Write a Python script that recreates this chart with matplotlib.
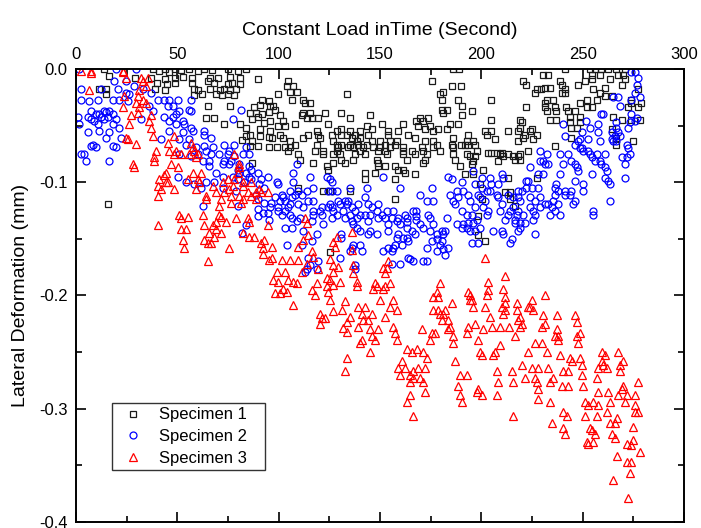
import matplotlib
matplotlib.use("Agg")
import matplotlib.pyplot as plt
import numpy as np

plt.rcParams['font.family'] = ['Liberation Sans', 'DejaVu Sans']
plt.rcParams['axes.unicode_minus'] = False

# (time s, lateral deformation mm)
spec1 = [
    (14, 0.0), (16.5, -0.006), (38, 0.0), (41, -0.002), (44, 0.0), (46, -0.003), (49, 0.0), (52, -0.001),
    (56, 0.0), (60, -0.002), (63, 0.0), (67, -0.001), (75, 0.0), (80, -0.002), (84, 0.0),
    (29, -0.008), (37, -0.008), (44, -0.009), (49, -0.008), (53, -0.007), (57, -0.008), (66, -0.008),
    (70, -0.008), (76, -0.007), (81, -0.008), (90, -0.009),
    (40, -0.012), (45, -0.013), (49, -0.012), (57, -0.012), (65, -0.011), (68, -0.012), (75, -0.013),
    (77, -0.012), (81, -0.013),
    (11.5, -0.018), (15, -0.018), (39, -0.018), (44, -0.019), (58, -0.018), (60, -0.019), (66, -0.018),
    (71, -0.019), (73, -0.018), (76, -0.019), (79, -0.018),
    (15, -0.022), (58, -0.023), (62, -0.022), (69, -0.022), (72, -0.023), (75, -0.022), (78, -0.023),
    (92, -0.027), (95, -0.028), (65, -0.033), (76, -0.033), (88, -0.034), (91, -0.032),
    (86, -0.039), (89, -0.039), (92, -0.040), (95, -0.038), (64, -0.043), (68, -0.043), (87, -0.044),
    (90, -0.042), (73, -0.049), (81, -0.049), (93, -0.048), (84, -0.052), (91, -0.053),
    (84, -0.059), (86, -0.058), (91, -0.059), (95, -0.060), (82, -0.063), (87, -0.064),
    (86, -0.068), (90, -0.068), (95, -0.069), (87, -0.083), (16, -0.119),
    (186, 0.0), (189, 0.0),
    (104.7, -0.011), (175.5, -0.011), (104, -0.015), (107, -0.015), (185.3, -0.015), (190, -0.015),
    (105.6, -0.020), (108.9, -0.020), (181, -0.020), (99.8, -0.022), (133.5, -0.022), (179.6, -0.022),
    (106.4, -0.027), (112.1, -0.027), (180.4, -0.027), (188.6, -0.027), (113, -0.030), (115.4, -0.030),
    (95.7, -0.033), (97.3, -0.033), (190.3, -0.033), (98.2, -0.036), (180.4, -0.036), (182.9, -0.036),
    (112.1, -0.039), (115.4, -0.039), (122.8, -0.039), (131, -0.039), (181.2, -0.039),
    (100.6, -0.041), (111.3, -0.041), (145, -0.041), (190.3, -0.041),
    (113.8, -0.043), (116.3, -0.043), (119.5, -0.043), (135.2, -0.043), (169.7, -0.043), (173.8, -0.043),
    (95.7, -0.046), (102.3, -0.046), (168, -0.046), (171.4, -0.046),
    (108, -0.049), (124.5, -0.049), (150.8, -0.049), (161.5, -0.049), (184.5, -0.049), (188.6, -0.049),
    (99.8, -0.050), (103, -0.050), (143.4, -0.050), (168.9, -0.050), (174.6, -0.050),
    (131, -0.053), (145.9, -0.053), (172.2, -0.053), (178.8, -0.053), (182.9, -0.053),
    (95.7, -0.055), (118.7, -0.055), (128.6, -0.055), (135.2, -0.055), (140.1, -0.055), (154.1, -0.055),
    (159, -0.055), (176.3, -0.055),
    (100.6, -0.058), (114.6, -0.058), (119.5, -0.058), (126.1, -0.058), (131, -0.058), (133.5, -0.058),
    (137.6, -0.058), (144.2, -0.058), (154, -0.058), (164, -0.058),
    (96.5, -0.061), (102.3, -0.061), (112.1, -0.061), (120.4, -0.061), (136, -0.061), (140, -0.061),
    (167.3, -0.061), (186.2, -0.061),
    (105.6, -0.064), (127, -0.064), (138.5, -0.064), (145.9, -0.064), (150, -0.064), (154.9, -0.064),
    (158.2, -0.064), (172.2, -0.064), (176.3, -0.064),
    (108, -0.067), (118.7, -0.067), (128.6, -0.067), (131, -0.067), (135.2, -0.067), (139.3, -0.067),
    (143.4, -0.067), (152.4, -0.067), (157.4, -0.067), (178, -0.067), (185.3, -0.067), (190, -0.067),
    (99, -0.069), (103, -0.069), (105.6, -0.069), (129.4, -0.069), (134.4, -0.069), (136.8, -0.069),
    (141.8, -0.069), (146.7, -0.069), (150, -0.069), (154.9, -0.069), (161.5, -0.069), (170.5, -0.069),
    (176.3, -0.069), (186.2, -0.069),
    (104.7, -0.072), (117.9, -0.072), (122, -0.072), (128.6, -0.072), (140, -0.072), (149.2, -0.072),
    (152.4, -0.072), (161.5, -0.072), (165.6, -0.072), (171.4, -0.072), (179.6, -0.072),
    (109.7, -0.075), (122, -0.075), (127, -0.075), (130.2, -0.075), (137.6, -0.075), (142.5, -0.075),
    (153.3, -0.075), (161.5, -0.075), (167.3, -0.075), (173, -0.075), (186.2, -0.075),
    (110.5, -0.080), (131, -0.080), (136.8, -0.080), (148.3, -0.080), (163.1, -0.080), (172.2, -0.080),
    (187, -0.080), (117.1, -0.083), (127, -0.083), (132.7, -0.083), (149.2, -0.083), (171.4, -0.083),
    (123.7, -0.086), (149.2, -0.086), (152.4, -0.086), (157.4, -0.086), (189.5, -0.086),
    (124.5, -0.089), (159, -0.089), (161.5, -0.089), (142.5, -0.092), (147.5, -0.092), (162.3, -0.092),
    (167.3, -0.093), (142.5, -0.097), (157.4, -0.097), (109.7, -0.105),
    (122, -0.108), (125.3, -0.108), (135.2, -0.108), (157.4, -0.115), (125.3, -0.162),
    (241.2, 0.0), (253.6, 0.0), (256, 0.0), (259.3, 0.0), (262.6, 0.0), (266.7, 0.0), (270.9, 0.0),
    (230.6, -0.005), (233, -0.005), (254.4, -0.005), (258.5, -0.005), (267.6, -0.005), (270, -0.005),
    (254.4, -0.009), (263.4, -0.009), (270.9, -0.009), (220.7, -0.011), (238.8, -0.011), (251.1, -0.011),
    (222.3, -0.014), (239.6, -0.014), (247.8, -0.014), (269.2, -0.014),
    (231.4, -0.017), (233.8, -0.017), (261, -0.017),
    (227.3, -0.018), (229.7, -0.018), (241.2, -0.018), (255.2, -0.018), (277.4, -0.018),
    (226.4, -0.021), (239.6, -0.021), (241.2, -0.021), (258.5, -0.021), (261, -0.024), (264.3, -0.024),
    (205, -0.027), (232.2, -0.027), (235.5, -0.027), (252, -0.027), (256.9, -0.027), (274.1, -0.027),
    (231.4, -0.030), (248.6, -0.030), (274.1, -0.030), (279, -0.030),
    (222.3, -0.034), (231.4, -0.034), (236.3, -0.034), (242, -0.034), (252, -0.034), (254.4, -0.034),
    (272.5, -0.034), (277.4, -0.034),
    (195.2, -0.037), (232.2, -0.037), (237.1, -0.037), (242.9, -0.037), (246.2, -0.037),
    (243.7, -0.042), (248.6, -0.042), (265.1, -0.042),
    (205, -0.045), (219, -0.045), (233.8, -0.045), (237.1, -0.045), (269.2, -0.045), (274.1, -0.045),
    (278.3, -0.045), (219.9, -0.047), (243.7, -0.047), (248.6, -0.047),
    (219, -0.052), (244.5, -0.052), (247, -0.052), (224.8, -0.053), (264.3, -0.053),
    (201.8, -0.055), (205, -0.055), (213.3, -0.055), (218.2, -0.055), (224, -0.055),
    (193.5, -0.058), (202.6, -0.058), (221.5, -0.058), (227.3, -0.058),
    (220.7, -0.061), (244.5, -0.061), (266.7, -0.061), (206.7, -0.062), (225.6, -0.062),
    (192.7, -0.064), (196, -0.064), (218.2, -0.064), (274.9, -0.064),
    (191.9, -0.067), (193.5, -0.067), (196.8, -0.067), (266.7, -0.067), (236.3, -0.068),
    (197.7, -0.072), (223.1, -0.072), (203.4, -0.074), (205, -0.074), (207.5, -0.074), (210, -0.074),
    (209.2, -0.075), (213.3, -0.075), (219, -0.075), (192.7, -0.075),
    (194.4, -0.077), (196.8, -0.077), (210.8, -0.077), (215.7, -0.077), (218.2, -0.077),
    (216.6, -0.080), (219, -0.080), (196, -0.081), (208.3, -0.081), (195.2, -0.084), (200.9, -0.089),
    (191.9, -0.093), (196, -0.093), (213.3, -0.096), (227.3, -0.096), (199.3, -0.102),
    (211.6, -0.109), (214.1, -0.109), (214.1, -0.115), (200.1, -0.115), (216.6, -0.121),
    (198.5, -0.130), (198.5, -0.147), (201.8, -0.152),
]

spec2 = [
    (1.6, 0.0), (19.7, 0.0), (29.6, 0.0), (18.9, -0.011), (24.7, -0.011), (28.8, -0.015),
    (2.5, -0.018), (12.3, -0.018), (20.6, -0.018), (32.9, -0.018), (24.7, -0.021), (37, -0.021), (26.3, -0.022),
    (2.5, -0.027), (10.7, -0.027), (18.1, -0.027), (21.4, -0.027), (40.3, -0.027), (43.6, -0.027),
    (46, -0.027), (50.2, -0.027), (56.7, -0.027), (6.6, -0.028), (25.5, -0.028),
    (36.2, -0.033), (45.2, -0.033), (47.7, -0.033), (55.9, -0.036), (81.4, -0.036), (56.7, -0.037),
    (7.4, -0.037), (14, -0.037), (14.8, -0.038), (16.4, -0.037), (51, -0.037), (37.8, -0.037),
    (9.9, -0.040), (11.5, -0.040), (18.1, -0.040), (49.3, -0.040),
    (0.8, -0.042), (5.8, -0.042), (12.3, -0.042), (15.6, -0.042), (43.6, -0.042), (47.7, -0.042),
    (7.4, -0.044), (14, -0.044), (19.7, -0.044), (32.1, -0.044), (77.3, -0.044),
    (9, -0.046), (46, -0.046), (52.6, -0.046),
    (1.6, -0.049), (10.7, -0.049), (18.1, -0.049), (49.3, -0.049), (53.5, -0.049), (21.4, -0.052), (56.7, -0.052),
    (11.5, -0.055), (46, -0.055), (57.6, -0.055), (63.3, -0.055), (5.8, -0.056), (16.4, -0.056),
    (52.6, -0.056), (63.3, -0.058), (14.8, -0.061), (22.2, -0.061), (66.6, -0.061),
    (42, -0.062), (51, -0.062), (55.9, -0.062), (8.2, -0.067), (54.3, -0.067), (73.2, -0.067), (78.1, -0.067),
    (7.4, -0.068), (18.1, -0.068), (63.3, -0.068),
    (9.9, -0.069), (19.7, -0.069), (59.2, -0.069), (67.4, -0.069), (83.9, -0.069), (64.1, -0.072), (75.7, -0.072),
    (2.5, -0.075), (4.1, -0.075), (51, -0.075), (60, -0.075), (66.6, -0.075), (70.7, -0.075), (74.8, -0.075),
    (82.2, -0.075), (85.5, -0.075), (56.7, -0.077), (78.1, -0.077),
    (4.9, -0.081), (16.4, -0.081), (62.5, -0.081), (65.8, -0.081), (73.2, -0.081), (76.5, -0.081),
    (72.4, -0.084), (75.7, -0.084), (80.6, -0.084), (65.8, -0.086), (85.5, -0.086), (79.8, -0.089), (86.3, -0.089),
    (69.1, -0.092), (80.6, -0.092), (83.9, -0.092), (89.6, -0.092),
    (50.2, -0.095), (72.4, -0.095), (77.3, -0.095), (85.5, -0.095), (94.6, -0.095),
    (79.8, -0.097), (86.3, -0.097), (91.3, -0.097), (54.3, -0.100), (64.1, -0.100), (68.3, -0.100), (83.1, -0.100),
    (58.4, -0.102), (90.5, -0.102), (61.7, -0.105), (72.4, -0.105), (92.9, -0.105), (78.9, -0.108),
    (88.8, -0.111), (89.6, -0.115), (92.9, -0.118), (96.2, -0.118), (62.5, -0.121), (79.8, -0.121),
    (89.6, -0.124), (92.1, -0.127), (94.6, -0.127), (90, -0.130), (84, -0.138), (82, -0.145), (95, -0.133),
    (108.9, -0.084), (107.2, -0.092), (115.4, -0.095), (123.7, -0.095), (151.6, -0.095), (183.7, -0.095),
    (125.3, -0.097), (185.3, -0.097), (99, -0.100), (107.2, -0.100), (126.1, -0.100), (190.3, -0.100), (99.8, -0.102),
    (117.1, -0.105), (135.2, -0.105), (143.4, -0.105), (159.8, -0.105), (175.5, -0.105),
    (105.6, -0.108), (109.7, -0.108), (113.8, -0.108), (124.5, -0.108), (126.1, -0.108), (128.6, -0.108),
    (187.8, -0.108), (191.1, -0.108),
    (101.5, -0.111), (108, -0.111), (111.3, -0.111), (169.7, -0.111), (184.5, -0.111),
    (98.2, -0.113), (102.3, -0.113), (106.4, -0.113), (142.5, -0.113), (188.6, -0.113),
    (100.6, -0.117), (103, -0.117), (114.6, -0.117), (117.1, -0.117), (129.4, -0.117), (132.7, -0.117),
    (134.4, -0.117), (173, -0.117), (176.3, -0.117), (186.2, -0.117),
    (105.6, -0.119), (109.7, -0.119), (125.3, -0.119), (130.2, -0.119), (133.5, -0.119), (139.3, -0.119),
    (144.2, -0.119), (149.2, -0.119), (187, -0.119),
    (95.7, -0.122), (99.8, -0.122), (104.7, -0.122), (112.1, -0.122), (121.2, -0.122), (124.5, -0.122),
    (126.1, -0.122), (136, -0.122), (145.9, -0.122),
    (99.8, -0.125), (103, -0.125), (117.1, -0.125), (120.4, -0.125), (127, -0.125), (131.9, -0.125),
    (137.6, -0.125), (148.3, -0.125), (153.3, -0.125), (156.6, -0.125), (166.4, -0.125), (168, -0.125),
    (190.3, -0.125),
    (101.5, -0.129), (105.6, -0.129), (117.1, -0.129), (121.2, -0.129), (128.6, -0.129), (135.2, -0.129),
    (140, -0.129), (142.5, -0.129), (145, -0.129), (150.8, -0.129), (162.3, -0.129), (168, -0.130), (173.8, -0.129),
    (106.4, -0.132), (110.5, -0.132), (126.1, -0.132), (132.7, -0.132), (138.5, -0.132), (149.2, -0.132),
    (152.4, -0.132), (155.7, -0.132), (159, -0.132), (163.1, -0.132), (168, -0.133), (174.6, -0.132), (182.9, -0.132),
    (108.9, -0.134), (116.3, -0.134), (136, -0.134), (144.2, -0.134), (158.2, -0.134), (163.1, -0.135),
    (122, -0.137), (136.8, -0.137), (154.1, -0.137), (159.8, -0.137), (169.7, -0.137), (176.3, -0.137),
    (187.8, -0.137), (191.1, -0.137),
    (103, -0.140), (106.4, -0.140), (138.5, -0.140), (163.1, -0.140), (171.4, -0.140), (190.3, -0.140),
    (112.1, -0.143), (140, -0.143), (145, -0.143), (154.1, -0.143), (165.6, -0.143), (174.6, -0.143),
    (180.4, -0.143), (182, -0.143),
    (118.7, -0.146), (131, -0.146), (144.2, -0.146), (148.3, -0.146), (159, -0.146), (167.3, -0.146),
    (178, -0.146), (181.2, -0.146),
    (131, -0.149), (158.2, -0.149), (161.5, -0.149), (163.1, -0.149), (178, -0.150),
    (116.3, -0.152), (164, -0.152), (175.5, -0.152), (180.4, -0.152),
    (103.9, -0.155), (111.3, -0.155), (136.8, -0.155), (140, -0.155), (157.4, -0.155), (160.7, -0.155), (179.6, -0.155),
    (136, -0.158), (154.1, -0.158), (156.6, -0.158), (173, -0.158), (183.7, -0.158), (181.2, -0.159),
    (135.2, -0.161), (141, -0.161), (151.6, -0.161), (155.7, -0.161), (178, -0.161), (182, -0.164),
    (114.6, -0.167), (130.2, -0.167), (164, -0.167), (164.8, -0.168),
    (119.5, -0.170), (166.4, -0.170), (171.4, -0.170), (173, -0.170), (155.7, -0.172), (159.8, -0.172),
    (115.4, -0.173), (137.6, -0.173), (137.6, -0.177), (113.8, -0.177), (118.7, -0.177), (113, -0.179),
    (274.1, -0.003), (275.8, -0.003), (277.4, -0.008), (276.6, -0.014), (275.8, -0.021),
    (265.1, -0.025), (267.6, -0.025), (278.3, -0.025), (274.1, -0.027), (268.4, -0.033),
    (259.3, -0.040), (260.2, -0.040), (274.1, -0.040), (276.6, -0.043),
    (251.9, -0.046), (275.8, -0.046), (266.7, -0.047), (273.3, -0.047), (240.4, -0.049), (257.7, -0.049),
    (253.6, -0.052), (272.5, -0.052), (266.7, -0.052),
    (249.5, -0.056), (257.7, -0.056), (264.3, -0.056), (267.6, -0.056),
    (241.2, -0.059), (265.9, -0.059), (268.4, -0.059), (248.6, -0.062), (252.8, -0.062), (264.3, -0.062),
    (247.8, -0.064), (258.5, -0.064), (265.1, -0.064), (266.7, -0.064), (246.2, -0.067), (271.7, -0.067),
    (248.6, -0.070), (249.5, -0.070), (272.5, -0.070), (228.9, -0.072), (250.3, -0.072), (252.8, -0.072),
    (232.2, -0.075), (238.8, -0.075), (242.9, -0.075), (253.6, -0.075), (256.9, -0.075), (261, -0.075), (273.3, -0.075),
    (254.4, -0.078), (269.2, -0.078), (271.7, -0.078),
    (228.9, -0.081), (230.6, -0.081), (244.5, -0.081), (256.1, -0.081), (258.5, -0.081),
    (231.4, -0.084), (233, -0.084), (240.4, -0.084), (246.2, -0.084), (259.3, -0.084), (270.9, -0.084),
    (224, -0.087), (247, -0.087), (261, -0.087), (196, -0.090), (247.8, -0.090), (261.8, -0.090),
    (210, -0.093), (228.1, -0.093), (230.6, -0.093), (238.8, -0.093), (254.4, -0.093),
    (200.1, -0.096), (204.2, -0.096), (210.8, -0.096), (261, -0.096), (270.9, -0.096),
    (222.3, -0.099), (223.1, -0.099), (246.2, -0.099), (262.6, -0.099),
    (196.8, -0.102), (205, -0.102), (208.3, -0.102), (237.1, -0.102), (250.3, -0.102), (263.4, -0.102),
    (200.1, -0.105), (222.3, -0.105), (224.8, -0.105), (228.1, -0.105), (236.3, -0.105),
    (202.6, -0.108), (204.2, -0.108), (218.2, -0.108), (219.9, -0.108), (238, -0.108), (241.2, -0.108),
    (244.5, -0.108), (250.3, -0.108),
    (193.5, -0.111), (198.5, -0.111), (207.5, -0.111), (213.3, -0.111), (236.3, -0.111), (241.2, -0.111), (243.7, -0.111),
    (199.3, -0.113), (208.3, -0.113), (215.7, -0.113), (218.2, -0.113), (224, -0.113), (228.9, -0.113),
    (194.4, -0.117), (201.8, -0.117), (219, -0.117), (226.4, -0.117), (235.5, -0.117), (246.2, -0.117), (263.4, -0.117),
    (210, -0.119), (231.4, -0.119), (233, -0.119), (238, -0.119), (245.4, -0.119),
    (196.8, -0.122), (200.9, -0.122), (215.7, -0.122), (224, -0.122), (228.9, -0.122), (234.7, -0.122),
    (203.4, -0.125), (209.2, -0.125), (214.1, -0.125), (218.2, -0.125), (225.6, -0.125), (236.3, -0.125), (255.2, -0.125),
    (192.7, -0.129), (195.2, -0.129), (202.6, -0.129), (213.3, -0.129), (217.4, -0.129), (220.7, -0.129),
    (226.4, -0.129), (233.8, -0.129), (238.8, -0.129), (255.2, -0.129),
    (197.7, -0.133), (211.6, -0.133), (216.6, -0.133), (225.6, -0.133),
    (193.5, -0.136), (196, -0.136), (216.6, -0.136), (219, -0.136), (221.5, -0.136),
    (192.7, -0.140), (199.3, -0.140), (219, -0.140),
    (194.4, -0.143), (196.8, -0.143), (205.9, -0.143), (210, -0.143), (218.2, -0.143),
    (210.8, -0.146), (226.4, -0.146), (214.9, -0.150), (195.2, -0.154), (198.5, -0.154), (214.1, -0.154),
]

spec3 = [
    (2.5, -0.002), (7.4, -0.002), (23, -0.002), (7.4, -0.004), (23, -0.003),
    (24.7, -0.008), (32.1, -0.008), (35.4, -0.008), (32.9, -0.011), (34.5, -0.015), (6.6, -0.019), (31.2, -0.019),
    (23.8, -0.024), (30.4, -0.024), (32.9, -0.027), (29.6, -0.030), (34.5, -0.030), (23, -0.034), (31.2, -0.034),
    (30.4, -0.039), (27.1, -0.041), (37, -0.041), (36.2, -0.046), (26.3, -0.049), (37, -0.052),
    (37.8, -0.059), (48.5, -0.059), (24.7, -0.061), (25.5, -0.062), (45.2, -0.065), (56.7, -0.065), (29.6, -0.066),
    (57.6, -0.069), (39.5, -0.072), (46, -0.072), (49.3, -0.072), (58.4, -0.072),
    (48.5, -0.075), (51.8, -0.075), (55.9, -0.075), (60, -0.075), (78.1, -0.075),
    (59.2, -0.078), (38.7, -0.078), (38.7, -0.081), (28, -0.084), (46.9, -0.084), (80.6, -0.084),
    (28.8, -0.087), (50.2, -0.087), (80.6, -0.087), (44.4, -0.092), (57.6, -0.092), (61.7, -0.092), (79.8, -0.092),
    (43.6, -0.094), (41.1, -0.097), (55.1, -0.097), (60, -0.097), (74.8, -0.097), (78.1, -0.097),
    (44.4, -0.100), (45.2, -0.100), (60.9, -0.100), (72.4, -0.100), (82.2, -0.100), (86.3, -0.100),
    (40.3, -0.103), (67.4, -0.103), (77.3, -0.103), (82.2, -0.103),
    (42, -0.106), (48.5, -0.106), (59.2, -0.106), (75.7, -0.106), (90.5, -0.106),
    (69.1, -0.109), (73.2, -0.109), (84.7, -0.109), (88.8, -0.109), (91.3, -0.109), (94.6, -0.109),
    (40.3, -0.112), (64.1, -0.112), (76.5, -0.112), (80.6, -0.112), (86.3, -0.112),
    (64.1, -0.115), (71.5, -0.115), (82.2, -0.115), (88.8, -0.115), (76.5, -0.118), (81.4, -0.118), (70.7, -0.121),
    (51, -0.129), (62.5, -0.129), (70.7, -0.129), (55.1, -0.131), (71.5, -0.131),
    (51.8, -0.132), (78.9, -0.132), (84.7, -0.132), (69.1, -0.135), (74, -0.135), (85.5, -0.135),
    (40.3, -0.138), (63.3, -0.138), (67.4, -0.138), (94.6, -0.138), (51.8, -0.141), (54.3, -0.141), (69.1, -0.141),
    (65.8, -0.145), (71.5, -0.145), (82.2, -0.145), (68.3, -0.148), (85.5, -0.148), (88, -0.148),
    (52.6, -0.151), (63.3, -0.151), (92.9, -0.151), (65, -0.154), (66.6, -0.154), (91.3, -0.154),
    (53.5, -0.158), (75.7, -0.158), (92.1, -0.158), (92.1, -0.163), (95.4, -0.169), (65, -0.170),
    (96.5, -0.167), (101.5, -0.169), (105.6, -0.169), (109.7, -0.169), (96.5, -0.157), (99, -0.179),
    (103.1, -0.179), (97.4, -0.186), (99.8, -0.188), (102.3, -0.194), (104.8, -0.186), (100.6, -0.198),
    (98.2, -0.198), (107.2, -0.188), (108.9, -0.189), (104, -0.197), (107.2, -0.208), (111.3, -0.179),
    (113.8, -0.172), (117.1, -0.166), (116.3, -0.161), (109.7, -0.157), (112.2, -0.151), (114.6, -0.147),
    (113.8, -0.136), (113, -0.132), (116.3, -0.195), (117.9, -0.200), (118.7, -0.189), (119.6, -0.177),
    (123.7, -0.192), (123.7, -0.185), (125.3, -0.186), (127, -0.191), (130.3, -0.188), (125.3, -0.204),
    (127, -0.214), (120.4, -0.216), (121.2, -0.220), (122.8, -0.220), (120.4, -0.225), (132.7, -0.205),
    (131.1, -0.213), (133.5, -0.223), (131.9, -0.229), (133.5, -0.232), (133.5, -0.255), (132.7, -0.267),
    (127, -0.173), (125.3, -0.168), (129.4, -0.175), (127, -0.179), (124.5, -0.197), (128.6, -0.148),
    (127.8, -0.157), (127, -0.153),
    (136, -0.144), (136, -0.160), (201.8, -0.167), (154.1, -0.170), (136.8, -0.173), (151.6, -0.176),
    (153.3, -0.176), (136.8, -0.180), (152.5, -0.180), (211.7, -0.183), (138.5, -0.188), (203.5, -0.188),
    (147.5, -0.189), (154.9, -0.189), (179.6, -0.189), (138.5, -0.192), (148.4, -0.192), (152.5, -0.192),
    (146.7, -0.194), (151.6, -0.194), (210.9, -0.194), (203.5, -0.195), (193.6, -0.197), (178, -0.197),
    (194.4, -0.200), (202.6, -0.200), (231.4, -0.200), (176.3, -0.201), (178.8, -0.201), (211.7, -0.201),
    (150, -0.204), (156.6, -0.204), (194.4, -0.204), (195.2, -0.204), (224.8, -0.204), (185.4, -0.207),
    (217.4, -0.207), (211.7, -0.207), (139.3, -0.210), (142.6, -0.210), (154.9, -0.210), (196.1, -0.210),
    (201.8, -0.210), (210, -0.210), (223.2, -0.210), (224, -0.210), (176.3, -0.213), (178.8, -0.213),
    (182.1, -0.213), (158.2, -0.213), (211.7, -0.213), (217.4, -0.213), (225.7, -0.213),
    (141, -0.216), (145.9, -0.216), (179.6, -0.216), (181.3, -0.216), (210.9, -0.216), (230.6, -0.217),
    (237.2, -0.217), (246.2, -0.217), (135.2, -0.219), (152.5, -0.219), (204.3, -0.219), (219.1, -0.219),
    (141.8, -0.222), (144.3, -0.222), (180.4, -0.222), (183.7, -0.222), (218.3, -0.222), (247, -0.223),
    (196.9, -0.225), (219.9, -0.225), (231.4, -0.225), (139.3, -0.228), (156.6, -0.228), (184.5, -0.228),
    (193.6, -0.228), (205.1, -0.228), (209.2, -0.228), (213.5, -0.228), (219.1, -0.228), (229.8, -0.228),
    (145.2, -0.230), (149.2, -0.230), (170.6, -0.230), (183.7, -0.230), (201, -0.230), (237.2, -0.230),
    (157.4, -0.233), (177.1, -0.233), (175.5, -0.233), (192.7, -0.233), (248.7, -0.233),
    (145.9, -0.236), (186.2, -0.236), (216.6, -0.236), (236.4, -0.236), (238, -0.236), (247, -0.236),
    (141, -0.239), (147.5, -0.239), (158.2, -0.239), (174.7, -0.239), (198.5, -0.239), (238, -0.239),
    (140.1, -0.242), (186.2, -0.242), (247.8, -0.242), (229.8, -0.242), (226.5, -0.242), (209.2, -0.244),
    (163.2, -0.247), (168.1, -0.247), (145.2, -0.250), (165.6, -0.250), (171.4, -0.250), (199.3, -0.250),
    (206.7, -0.250), (223.2, -0.250), (232.2, -0.250), (259.4, -0.250), (267.6, -0.250),
    (200.2, -0.253), (205.9, -0.253), (238.8, -0.253), (261, -0.253), (173, -0.255), (243.8, -0.255),
    (248.7, -0.255), (160.7, -0.258), (187, -0.258), (244.6, -0.258), (259.4, -0.258), (270, -0.258),
    (219.9, -0.261), (249.5, -0.261), (260.2, -0.261), (268.4, -0.261),
    (159, -0.264), (162.3, -0.264), (168.9, -0.264), (172.2, -0.264), (224.8, -0.264), (228.1, -0.264),
    (233.1, -0.264), (257.7, -0.264), (261.8, -0.264),
    (166.4, -0.267), (207.6, -0.267), (215, -0.267), (240.4, -0.267), (242.9, -0.267), (268.4, -0.267),
    (159.9, -0.270), (164.8, -0.270), (189.5, -0.270), (192.8, -0.270), (249.5, -0.270),
    (166.4, -0.273), (169.7, -0.273), (221.5, -0.273), (226.5, -0.273), (235.5, -0.273), (256.9, -0.273),
    (164.8, -0.276), (171.4, -0.276), (208.4, -0.276), (215.8, -0.276), (227.3, -0.276), (233.9, -0.276),
    (277.5, -0.276), (188.7, -0.280), (239.6, -0.280), (242.9, -0.280), (250.3, -0.280), (270, -0.280),
    (198.5, -0.283), (228.1, -0.283), (269.2, -0.283), (172.2, -0.285), (197.7, -0.285), (257.7, -0.285),
    (262.7, -0.285), (164.8, -0.288), (189.5, -0.288), (200.2, -0.288), (207.6, -0.288), (267.6, -0.288),
    (271.7, -0.288), (275.8, -0.288), (228.1, -0.291),
    (163.2, -0.294), (190.3, -0.294), (233.9, -0.294), (251.1, -0.294), (255.3, -0.294), (263.5, -0.294),
    (270.9, -0.294), (252.8, -0.297), (257.7, -0.297), (275.8, -0.297),
    (240.4, -0.303), (261.8, -0.303), (275.8, -0.303), (277.5, -0.303),
    (166.4, -0.306), (215.8, -0.306), (242.1, -0.306), (251.1, -0.306), (256.9, -0.306), (266.8, -0.308),
    (234.7, -0.313), (263.5, -0.313), (265.9, -0.313), (275, -0.316), (240.4, -0.317), (253.6, -0.317),
    (254.4, -0.319), (241.3, -0.322), (256.1, -0.322), (264.3, -0.322), (265.9, -0.326), (275, -0.328),
    (252, -0.329), (255.3, -0.329), (252.8, -0.331), (271.7, -0.331), (274, -0.332),
    (278.3, -0.338), (266.8, -0.342), (271.7, -0.347), (274, -0.347), (273.4, -0.357), (265.1, -0.363),
    (272.5, -0.379),
]

labels = ['Specimen 1', 'Specimen 2', 'Specimen 3']
x_ticks = [0, 50, 100, 150, 200, 250, 300]
y_ticks = [0.0, -0.1, -0.2, -0.3, -0.4]

fig = plt.figure(figsize=(7.01, 5.28), dpi=100)
ax = fig.add_axes([0.1084, 0.0114, 0.8673, 0.8580])

styles = [
    dict(marker='s', color='#1a1a1a', ms=4.0),
    dict(marker='o', color='#0000ff', ms=5.0),
    dict(marker='^', color='#ff0000', ms=5.8),
]
for pts, lab, st in zip([spec1, spec2, spec3], labels, styles):
    xs, ys = zip(*pts)
    ax.plot(xs, ys, linestyle='none', marker=st['marker'], ms=st['ms'],
            mfc='none', mec=st['color'], mew=0.9, label=lab)

ax.set_xlim(0, 300)
ax.set_ylim(-0.4, 0.0)
ax.set_xticks(x_ticks)
ax.set_yticks(y_ticks)
ax.set_yticklabels(['%.1f' % v if v != 0 else '0.0' for v in y_ticks])
ax.set_xticks(np.arange(25, 300, 50), minor=True)
ax.set_yticks(np.arange(-0.35, 0, 0.1), minor=True)

ax.xaxis.tick_top()
ax.xaxis.set_label_position('top')
ax.tick_params(which='both', direction='in', top=True, bottom=True, left=True, right=True,
               width=1.2, labelsize=12)
ax.tick_params(which='major', length=7)
ax.tick_params(which='minor', length=4)
ax.tick_params(axis='x', pad=5)
ax.tick_params(axis='y', pad=6)
for sp in ax.spines.values():
    sp.set_linewidth(1.4)

ax.set_xlabel('Constant Load inTime (Second)', fontsize=14, labelpad=9)
ax.set_ylabel('Lateral Deformation (mm)', fontsize=14, labelpad=7)

leg = ax.legend(loc='lower left', bbox_to_anchor=(0.0592, 0.1148, 0.2516, 0.15), mode='expand',
                borderaxespad=0, fontsize=12, frameon=True, fancybox=False, edgecolor='black',
                labelspacing=0.4, borderpad=0.25, handlelength=2.0, handletextpad=0.6)
leg.get_frame().set_linewidth(1.0)

fig.savefig('out.png', dpi=100)
